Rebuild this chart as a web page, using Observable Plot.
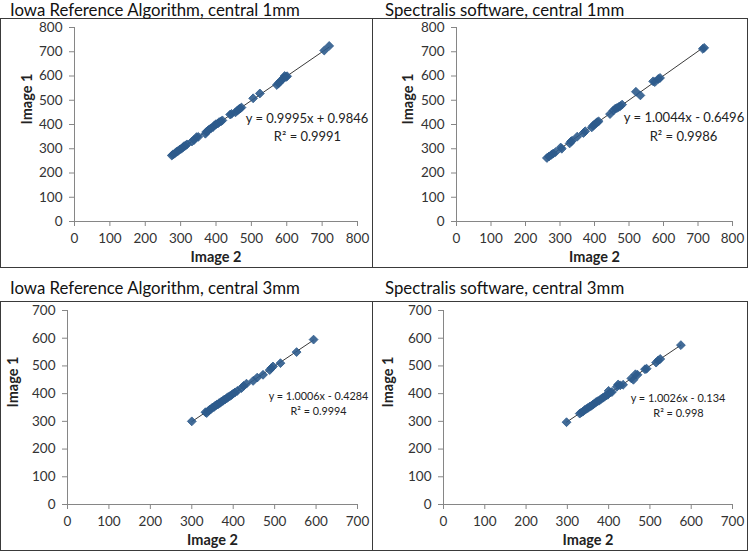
<!DOCTYPE html>
<html>
<head>
<meta charset="utf-8">
<script src="https://cdn.jsdelivr.net/npm/d3@7"></script>
<script src="https://cdn.jsdelivr.net/npm/@observablehq/plot@0.6"></script>
<style>
  html, body { margin: 0; padding: 0; background: #fff; }
  #root { position: relative; width: 750px; height: 552px; overflow: hidden; font-family: Lato, "Open Sans", sans-serif; }
  .title { position: absolute; z-index: 2; font-size: 16.8px; color: #111; white-space: nowrap; line-height: 18px; }
  .box { position: absolute; z-index: 1; border: 1px solid #3a3a3a; }
  .box svg { display: block; }
</style>
</head>
<body>
<div id="root"></div>
<script>
// ---- Data ----
const titles = [
  "Iowa Reference Algorithm, central 1mm",
  "Spectralis software, central 1mm",
  "Iowa Reference Algorithm, central 3mm",
  "Spectralis software, central 3mm"
];
const equations = [
  "y = 0.9995x + 0.9846",
  "y = 1.0044x - 0.6496",
  "y = 1.0006x - 0.4284",
  "y = 1.0026x - 0.134"
];
const rSquared = ["R² = 0.9991", "R² = 0.9986", "R² = 0.9994", "R² = 0.998"];
const ticks800 = [0, 100, 200, 300, 400, 500, 600, 700, 800];
const ticks700 = [0, 100, 200, 300, 400, 500, 600, 700];
const xLabel = "Image 2";
const yLabel = "Image 1";

// Iowa Reference Algorithm, central 1mm
const iowa1Image2 = [275,278,283,288,292,297,302,306,310,314,318,332,338,345,350,370,373,377,381,386,392,396,400,405,409,414,418,440,444,455,460,464,468,472,505,524,572,577,582,587,591,594,598,601,706,720];
const iowa1Image1 = [272,276,280,287,290,296,300,305,311,313,318,330,336,348,349,362,370,374,380,384,390,397,401,404,410,413,417,441,444,450,457,462,466,470,508,528,563,570,578,585,592,600,596,599,705,724];

// Spectralis software, central 1mm
const spec1Image2 = [262,268,275,280,287,302,305,328,332,335,350,368,373,392,396,400,404,408,412,445,455,460,465,470,475,480,520,533,570,575,585,590,714,718];
const spec1Image1 = [262,268,275,280,286,305,300,322,330,333,350,365,372,388,395,400,405,410,413,443,458,465,468,472,476,482,535,520,578,575,588,592,712,716];

// Iowa Reference Algorithm, central 3mm
const iowa3Image2 = [300,333,336,340,343,347,350,354,357,360,363,366,369,372,375,378,381,385,388,392,396,400,404,410,420,425,432,448,458,472,488,492,496,514,553,594];
const iowa3Image1 = [300,333,330,338,342,345,350,352,357,360,361,366,367,372,374,378,380,384,388,391,395,400,404,410,420,428,436,446,458,468,485,492,498,510,550,595];

// Spectralis software, central 3mm
const spec3Image2 = [298,330,334,338,342,346,350,354,358,362,366,370,374,378,382,386,390,394,398,400,404,408,420,423,428,435,455,460,465,470,488,492,515,520,525,575];
const spec3Image1 = [297,328,332,336,341,345,348,353,356,360,365,370,373,376,381,385,389,393,396,410,404,406,425,433,430,432,455,450,470,468,488,490,512,520,525,575];

// ---- Layout (pixel placement of the panels and annotation text) ----
const panels = [
  {x2: iowa1Image2, x1: iowa1Image1, ticks: ticks800, max: 800, left: 0, top: 18, w: 371, mL: 73, titleLeft: 10, titleTop: 1, labDx: -47,
   eqDx: 232.5, eqDy: 91, r2Dx: 233, r2Dy: 109, eqW: 123},
  {x2: spec1Image2, x1: spec1Image1, ticks: ticks800, max: 800, left: 372, top: 18, w: 374, mL: 83, titleLeft: 385, titleTop: 1, labDx: -48,
   eqDx: 227.5, eqDy: 90, r2Dx: 227, r2Dy: 109, eqW: 121},
  {x2: iowa3Image2, x1: iowa3Image1, ticks: ticks700, max: 700, left: 0, top: 301, w: 371, mL: 66, titleLeft: 10, titleTop: 279, labDx: -54,
   eqDx: 251, eqDy: 86, r2Dx: 251, r2Dy: 101, eqW: 100},
  {x2: spec3Image2, x1: spec3Image1, ticks: ticks700, max: 700, left: 372, top: 301, w: 374, mL: 70, titleLeft: 385, titleTop: 279, labDx: -55,
   eqDx: 234.5, eqDy: 88, r2Dx: 235, r2Dy: 103, eqW: 95}
];

const root = document.getElementById("root");
const axisColor = "#868686";
const markerColor = "#2D5B8C";
const ctx = document.createElement("canvas").getContext("2d");
function fitSize(text, target) {
  ctx.font = "20px Lato";
  const w = ctx.measureText(text).width;
  return Math.max(9, Math.min(16, 20 * target / w));
}

panels.forEach((p, i) => {
  const t = document.createElement("div");
  t.className = "title";
  t.style.left = p.titleLeft + "px";
  t.style.top = p.titleTop + "px";
  t.textContent = titles[i];
  root.appendChild(t);

  const box = document.createElement("div");
  box.className = "box";
  box.style.left = p.left + "px";
  box.style.top = p.top + "px";
  box.style.width = p.w + "px";
  box.style.height = "248px";
  root.appendChild(box);

  const data = p.x2.map((v, k) => ({image2: v, image1: p.x1[k]}));
  const eqSize = fitSize(equations[i], p.eqW);

  const chart = Plot.plot({
    width: p.w,
    height: 248,
    marginLeft: p.mL,
    marginRight: 15,
    marginTop: 8,
    marginBottom: 46,
    style: {fontFamily: "Lato, 'Open Sans', sans-serif", fontSize: "13px", color: "#333", background: "transparent"},
    x: {domain: [0, p.max], ticks: p.ticks},
    y: {domain: [0, p.max], ticks: p.ticks},
    marks: [
      Plot.axisX({ticks: p.ticks, tickSize: 5, tickPadding: 7, stroke: axisColor, fill: "#333", label: null, fontSize: 13.5}),
      Plot.axisY({ticks: p.ticks, tickSize: 5, tickPadding: 7, stroke: axisColor, fill: "#333", label: null, fontSize: 13.5}),
      Plot.ruleY([0], {stroke: axisColor}),
      Plot.ruleX([0], {stroke: axisColor}),
      Plot.linearRegressionY(data, {x: "image2", y: "image1", ci: 0, stroke: "#3a3a3a", strokeWidth: 1}),
      Plot.dot(data, {x: "image2", y: "image1", symbol: "diamond2", r: 4, fill: markerColor, stroke: markerColor, strokeWidth: 0.8, fillOpacity: 0.9}),
      Plot.text([equations[i]], {frameAnchor: "top-left", textAnchor: "middle", lineAnchor: "middle", dx: p.eqDx, dy: p.eqDy, fontSize: eqSize, fill: "#222"}),
      Plot.text([rSquared[i]], {frameAnchor: "top-left", textAnchor: "middle", lineAnchor: "middle", dx: p.r2Dx, dy: p.r2Dy, fontSize: eqSize, fill: "#222"}),
      Plot.text([xLabel], {frameAnchor: "bottom", lineAnchor: "middle", dy: 36, fontWeight: "bold", fontSize: 14.5, fill: "#222"}),
      Plot.text([yLabel], {frameAnchor: "left", lineAnchor: "middle", rotate: -90, dx: p.labDx, fontWeight: "bold", fontSize: 14.5, fill: "#222"})
    ]
  });
  box.appendChild(chart);
});
</script>
</body>
</html>
